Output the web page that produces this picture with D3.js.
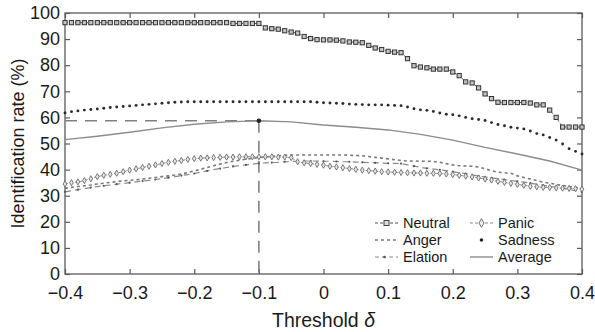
<!DOCTYPE html>
<html>
<head>
<meta charset="utf-8">
<script src="https://cdn.jsdelivr.net/npm/d3@7"></script>
<style>
  body { margin: 0; background: #fff; }
  svg { display: block; font-family: "Liberation Sans", Arial, sans-serif; }
</style>
</head>
<body>
<div id="chart"></div>
<script>
// threshold grid (x) shared by the marker series, step 0.01
const thresholds = d3.range(-40, 41).map(i => i / 100)

const neutral = [
  96.3, 96.3, 96.3, 96.3, 96.3, 96.3, 96.3, 96.3, 96.3, 96.3,
  96.3, 96.3, 96.3, 96.3, 96.3, 96.3, 96.3, 96.3, 96.3, 96.3,
  96.3, 96.3, 96.3, 96.3, 96.3, 96.3, 96.0, 96.0, 96.0, 96.0,
  96.0, 94.3, 94.0, 93.8, 93.2, 92.7, 92.3, 91.0, 90.2, 89.8,
  89.7, 89.7, 89.6, 89.3, 88.9, 88.8, 88.6, 87.6, 86.6, 86.0,
  85.3, 85.0, 84.8, 82.5, 79.8, 79.3, 79.0, 78.5, 78.5, 78.5,
  77.4, 76.0, 73.6, 73.2, 71.3, 69.0, 67.2, 65.8, 65.7, 65.7,
  65.7, 65.7, 65.5, 64.8, 64.8, 62.8, 60.0, 56.3, 56.3, 56.3,
  56.3
]

const sadness = [
  61.7, 62.2, 62.5, 62.8, 63.0, 63.2, 63.5, 63.8, 64.0, 64.2,
  64.4, 64.6, 64.8, 65.0, 65.2, 65.4, 65.6, 65.8, 65.9, 66.0,
  66.0, 66.0, 66.0, 66.0, 66.0, 66.0, 66.0, 66.0, 66.0, 66.0,
  66.0, 66.0, 66.0, 66.0, 66.0, 66.0, 66.0, 66.0, 66.0, 65.8,
  65.6, 65.5, 65.4, 65.3, 65.1, 65.0, 64.9, 64.8, 64.8, 64.8,
  64.7, 64.6, 64.5, 64.0, 63.3, 62.9, 62.7, 62.3, 61.7, 61.2,
  61.0, 60.6, 60.0, 59.5, 59.2, 58.8, 58.0, 57.3, 56.8, 56.2,
  55.9, 55.6, 54.8, 53.8, 53.3, 52.3, 51.3, 49.8, 48.0, 47.0,
  46.0
]

const panic = [
  34.5, 35.0, 35.3, 35.8, 36.5, 37.3, 37.8, 38.2, 38.6, 39.2,
  39.8, 40.3, 40.8, 41.3, 41.8, 42.3, 42.8, 43.2, 43.5, 43.9,
  44.2, 44.4, 44.5, 44.6, 44.7, 44.8, 44.8, 44.9, 44.9, 44.9,
  44.9, 44.9, 44.9, 44.8, 44.8, 44.6, 43.0, 42.6, 42.3, 42.0,
  41.7, 41.3, 41.0, 40.7, 40.4, 40.1, 39.8, 39.6, 39.4, 39.2,
  39.1, 39.0, 38.9, 38.8, 38.7, 38.7, 38.6, 38.6, 38.5, 38.3,
  38.1, 37.8, 37.5, 37.2, 36.8, 36.4, 36.0, 35.5, 35.1, 34.7,
  34.3, 34.0, 33.6, 33.4, 33.2, 33.1, 33.0, 32.9, 32.8, 32.7,
  32.5
]

const anger = [
  32.8, 33.2, 33.5, 33.8, 34.1, 34.5, 34.8, 35.1, 35.4, 35.7,
  35.9, 36.1, 36.4, 36.7, 37.0, 37.3, 37.6, 37.9, 38.3, 38.9,
  39.5, 40.1, 40.8, 41.5, 42.1, 42.7, 43.2, 43.6, 44.0, 44.3,
  44.6, 44.9, 45.1, 45.3, 45.5, 45.6, 45.6, 45.6, 45.6, 45.6,
  45.6, 45.6, 45.6, 45.6, 45.5, 45.4, 45.3, 45.0, 44.7, 44.4,
  44.1, 43.8, 43.5, 43.3, 43.3, 43.2, 43.2, 43.1, 42.8, 42.3,
  41.8, 41.5, 41.4, 41.3, 41.0, 40.3, 39.6, 39.0, 38.8, 38.6,
  37.6, 37.0, 36.4, 35.8, 35.2, 34.8, 34.3, 33.9, 33.5, 33.1,
  32.8
]

const elation = [
  31.5, 31.9, 32.3, 32.7, 33.1, 33.5, 33.8, 34.1, 34.4, 34.7,
  35.0, 35.3, 35.6, 35.9, 36.2, 36.5, 36.9, 37.3, 37.7, 38.1,
  38.5, 39.0, 39.5, 40.0, 40.4, 40.8, 41.2, 41.5, 41.8, 42.1,
  42.4, 42.6, 42.7, 42.8, 43.0, 43.1, 43.2, 43.3, 43.3, 43.3,
  43.2, 43.2, 43.1, 43.0, 43.0, 42.9, 42.8, 42.7, 42.6, 42.5,
  42.4, 42.4, 42.3, 41.8, 41.3, 40.9, 40.5, 40.2, 39.9, 39.6,
  39.2, 38.8, 38.5, 38.0, 37.5, 37.2, 36.8, 36.5, 36.2, 35.8,
  35.5, 35.2, 34.8, 34.4, 34.0, 33.6, 33.2, 32.8, 32.4, 31.9,
  31.5
]

// average curve, read at a coarser step
const avgThresholds = [-0.4, -0.35, -0.3, -0.25, -0.2, -0.15, -0.1, -0.05, 0,
  0.05, 0.1, 0.15, 0.2, 0.25, 0.3, 0.35, 0.4]
const average = [51.5, 52.8, 54.3, 56.0, 57.4, 58.3, 58.7, 58.3, 57.1,
  56.2, 55.2, 53.5, 51.3, 48.5, 46.0, 43.3, 39.8]

const xTicks = [-0.4, -0.3, -0.2, -0.1, 0, 0.1, 0.2, 0.3, 0.4]
const xTickLabels = ['\u22120.4', '\u22120.3', '\u22120.2', '\u22120.1', '0', '0.1', '0.2', '0.3', '0.4']
const yTicks = [0, 10, 20, 30, 40, 50, 60, 70, 80, 90, 100]

const legendLeft = ['Neutral', 'Anger', 'Elation']
const legendRight = ['Panic', 'Sadness', 'Average']

const margin = { top: 13, right: 13, bottom: 58, left: 65 }
const width = 595 - margin.left - margin.right
const height = 332 - margin.top - margin.bottom

const svg = d3.select('#chart')
  .append('svg')
  .attr('width', 595)
  .attr('height', 332)

const g = svg.append('g')
  .attr('transform', `translate(${margin.left},${margin.top})`)

const x = d3.scaleLinear().domain([-0.4, 0.4]).range([0, width])
const y = d3.scaleLinear().domain([0, 100]).range([height, 0])

const frameColor = '#5a5a5a'

// axes: inward ticks on all four sides
const tickFmt = d => xTickLabels[xTicks.indexOf(d)]
const xAxis = d3.axisBottom(x).tickValues(xTicks).tickFormat(tickFmt)
  .tickSizeInner(-5).tickSizeOuter(0).tickPadding(12)
const yAxis = d3.axisLeft(y).tickValues(yTicks)
  .tickSizeInner(-5).tickSizeOuter(0).tickPadding(5)

g.append('g').attr('transform', `translate(0,${height})`).call(xAxis)
g.append('g').call(yAxis)
g.append('g').call(d3.axisTop(x).tickValues(xTicks).tickFormat('').tickSizeInner(-5).tickSizeOuter(0))
g.append('g').attr('transform', `translate(${width},0)`)
  .call(d3.axisRight(y).tickValues(yTicks).tickFormat('').tickSizeInner(-5).tickSizeOuter(0))

g.selectAll('.domain').remove()
g.selectAll('.tick line').attr('stroke', frameColor).attr('stroke-width', 1.2)
g.selectAll('.tick text').attr('fill', '#1a1a1a').style('font-size', '18px')
  .style('font-family', '"Liberation Sans", Arial, sans-serif')

g.append('rect')
  .attr('width', width).attr('height', height)
  .attr('fill', 'none').attr('stroke', frameColor).attr('stroke-width', 1.3)

// reference lines at the peak of the average curve
const peakIdx = d3.maxIndex(average)
const peakX = avgThresholds[peakIdx]
const peakY = average[peakIdx]
g.append('line')
  .attr('x1', x(-0.4)).attr('x2', x(peakX))
  .attr('y1', y(peakY)).attr('y2', y(peakY))
  .attr('stroke', '#808080').attr('stroke-width', 1.6).attr('stroke-dasharray', '12,8')
g.append('line')
  .attr('x1', x(peakX)).attr('x2', x(peakX))
  .attr('y1', y(peakY)).attr('y2', y(0))
  .attr('stroke', '#808080').attr('stroke-width', 1.6).attr('stroke-dasharray', '12,8')

const line = d3.line().x(d => x(d[0])).y(d => y(d[1]))
const pairs = vals => thresholds.map((t, i) => [t, vals[i]])

// Anger: dotted
g.append('path').datum(pairs(anger))
  .attr('d', line).attr('fill', 'none')
  .attr('stroke', '#7a7a7a').attr('stroke-width', 1.6).attr('stroke-dasharray', '3,3')

// Elation: dashed with small dots
g.append('path').datum(pairs(elation))
  .attr('d', line).attr('fill', 'none')
  .attr('stroke', '#8a8a8a').attr('stroke-width', 1.2).attr('stroke-dasharray', '6,4')
g.selectAll('.elation-pt').data(pairs(elation).filter((d, i) => i % 2 === 0)).enter()
  .append('circle').attr('class', 'elation-pt')
  .attr('cx', d => x(d[0])).attr('cy', d => y(d[1])).attr('r', 1.1).attr('fill', '#555')

// Panic: dashed with diamonds
g.append('path').datum(pairs(panic))
  .attr('d', line).attr('fill', 'none')
  .attr('stroke', '#8a8a8a').attr('stroke-width', 1).attr('stroke-dasharray', '3,2')
const diamond = d3.symbol().type(d3.symbolDiamond).size(11)
g.selectAll('.panic-pt').data(pairs(panic)).enter()
  .append('path').attr('class', 'panic-pt')
  .attr('transform', d => `translate(${x(d[0])},${y(d[1])})`)
  .attr('d', diamond).attr('fill', '#e8e8e8').attr('stroke', '#6a6a6a').attr('stroke-width', 0.9)

// Average: solid
g.append('path').datum(avgThresholds.map((t, i) => [t, average[i]]))
  .attr('d', line).attr('fill', 'none')
  .attr('stroke', '#8c8c8c').attr('stroke-width', 1.4)

// Sadness: dots only
g.selectAll('.sad-pt').data(pairs(sadness)).enter()
  .append('circle').attr('class', 'sad-pt')
  .attr('cx', d => x(d[0])).attr('cy', d => y(d[1])).attr('r', 1.45).attr('fill', '#2a2a2a')

// Neutral: dashed with squares
g.append('path').datum(pairs(neutral))
  .attr('d', line).attr('fill', 'none')
  .attr('stroke', '#555').attr('stroke-width', 1).attr('stroke-dasharray', '3,2')
g.selectAll('.neutral-pt').data(pairs(neutral)).enter()
  .append('rect').attr('class', 'neutral-pt')
  .attr('x', d => x(d[0]) - 2.1).attr('y', d => y(d[1]) - 2.1)
  .attr('width', 4.2).attr('height', 4.2)
  .attr('fill', '#c4c4c4').attr('stroke', '#333').attr('stroke-width', 1)

// peak marker
g.append('circle').attr('cx', x(peakX)).attr('cy', y(peakY)).attr('r', 2.3).attr('fill', '#222')

// legend
const legend = g.append('g').attr('transform', `translate(${375 - margin.left},${223 - margin.top})`)
const rowH = 17
const symW = 23

function drawSymbol(sel, name) {
  const mid = symW / 2
  if (name === 'Neutral') {
    sel.append('line').attr('x1', 0).attr('x2', symW).attr('stroke', '#555').attr('stroke-dasharray', '3,2')
    sel.append('rect').attr('x', mid - 2.5).attr('y', -2.5).attr('width', 5).attr('height', 5)
      .attr('fill', '#ddd').attr('stroke', '#444')
  } else if (name === 'Anger') {
    sel.append('line').attr('x1', 0).attr('x2', symW).attr('stroke', '#7a7a7a')
      .attr('stroke-width', 1.6).attr('stroke-dasharray', '3,3')
  } else if (name === 'Elation') {
    sel.append('line').attr('x1', 0).attr('x2', symW).attr('stroke', '#8a8a8a')
      .attr('stroke-width', 1.2).attr('stroke-dasharray', '4,3')
    sel.append('circle').attr('cx', mid - 2).attr('r', 1.3).attr('fill', '#555')
  } else if (name === 'Panic') {
    sel.append('line').attr('x1', 0).attr('x2', symW).attr('stroke', '#8a8a8a').attr('stroke-dasharray', '3,2')
    sel.append('path').attr('transform', `translate(${mid},0)`)
      .attr('d', d3.symbol().type(d3.symbolDiamond).size(22))
      .attr('fill', '#eee').attr('stroke', '#707070')
  } else if (name === 'Sadness') {
    sel.append('circle').attr('cx', mid).attr('r', 1.8).attr('fill', '#262626')
  } else {
    sel.append('line').attr('x1', 0).attr('x2', symW).attr('stroke', '#8c8c8c').attr('stroke-width', 1.4)
  }
}

const cols = [{ names: legendLeft, dx: 0 }, { names: legendRight, dx: 95 }]
cols.forEach(col => {
  col.names.forEach((name, i) => {
    const item = legend.append('g').attr('transform', `translate(${col.dx},${i * rowH})`)
    drawSymbol(item, name)
    item.append('text')
      .attr('x', symW + 5).attr('y', 0).attr('dy', '0.35em')
      .style('font-size', '14.5px').attr('fill', '#1a1a1a')
      .text(name)
  })
})

// axis titles
svg.append('text')
  .attr('transform', `translate(24,${margin.top + height / 2}) rotate(-90)`)
  .attr('text-anchor', 'middle')
  .style('font-size', '18px').attr('fill', '#1a1a1a')
  .text('Identification rate (%)')

const xt = svg.append('text')
  .attr('x', margin.left + width / 2).attr('y', 327)
  .attr('text-anchor', 'middle')
  .style('font-size', '19.5px').attr('fill', '#1a1a1a')
xt.append('tspan').text('Threshold ')
xt.append('tspan').style('font-style', 'italic').text('\u03b4')
</script>
</body>
</html>
